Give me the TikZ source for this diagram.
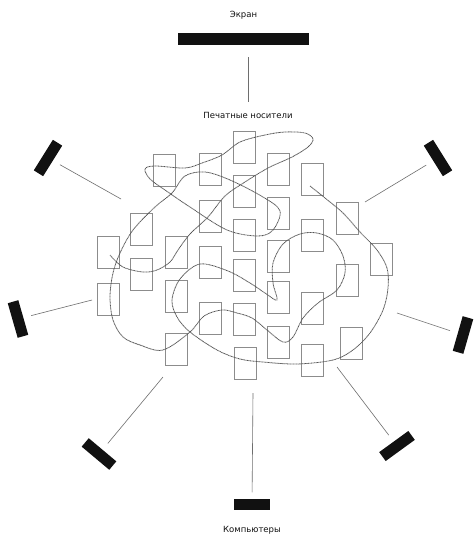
\documentclass[tikz,border=0pt]{standalone}
\usepackage{fontspec}
\setmainfont{DejaVu Sans}
\usetikzlibrary{positioning}
\definecolor{ink}{HTML}{111111}
\definecolor{sheetgr}{HTML}{8C8C8C}
\definecolor{tracegr}{HTML}{555555}
\definecolor{wiregr}{HTML}{6E6E6E}

\begin{document}
\begin{tikzpicture}[x=1pt,y=-1pt,
   screen/.style={fill=ink,minimum width=36pt,minimum height=11pt,inner sep=0pt},
   sheet/.style={draw=sheetgr,line width=0.8pt,minimum width=22pt,minimum height=32pt,inner sep=0pt},
   link/.style={draw=wiregr,line width=0.6pt},
   trace/.style={draw=tracegr,line width=0.8pt,dash pattern=on 1pt off 0.5pt},
   lbl/.style={font=\fontsize{8.5}{10}\selectfont,text=ink,inner sep=1pt}]
  \path[fill=white] (0,0) rectangle (475,535);
  \useasboundingbox (0,0) rectangle (475,535);

  % screens round the edge
  \node[screen,minimum width=131pt,minimum height=12pt] (scr-top) at (243.5,39) {};
  \node[screen,rotate=58] (scr-nw) at (48,158) {};
  \node[screen,rotate=106] (scr-w) at (18,319) {};
  \node[screen,rotate=-40] (scr-sw) at (99,454) {};
  \node[screen] (scr-s) at (252,504) {};
  \node[screen,rotate=36] (scr-se) at (397,446) {};
  \node[screen,rotate=74] (scr-e) at (463,335) {};
  \node[screen,rotate=-58] (scr-ne) at (438,158) {};

  \coordinate (top-in) at (248,102);
  \coordinate (nw-in) at (121,199);
  \coordinate (w-in) at (92,300);
  \coordinate (sw-in) at (163,377);
  \coordinate (s-in) at (253,393);
  \coordinate (se-in) at (337,367);
  \coordinate (e-in) at (397,313);
  \coordinate (ne-in) at (365,202);

  \node[lbl,above=12pt of scr-top] (l-top) {Экран};
  \node[lbl,below=9pt of top-in] (l-print) {Печатные носители};
  \node[lbl,below=15pt of scr-s] (l-comp) {Компьютеры};

  \draw[link,shorten <=12pt] (scr-top.south -| top-in) -- (top-in);
  \draw[link,shorten <=8pt] (scr-nw) -- (nw-in);
  \draw[link,shorten <=8pt] (scr-w) -- (w-in);
  \draw[link,shorten <=8pt] (scr-sw) -- (sw-in);
  \draw[link,shorten <=6pt] (scr-s) -- (s-in);
  \draw[link,shorten <=8pt] (scr-se) -- (se-in);
  \draw[link,shorten <=8pt] (scr-e) -- (e-in);
  \draw[link,shorten <=8pt] (scr-ne) -- (ne-in);

  % printed sheets
  \foreach \x/\y [count=\i] in {164/170,210/169,244.5/147.5,278/169,312/179,
      244.5/191,210/216,278/213,141.5/229.5,347/218,244.5/235,312/235,
      108.5/252.5,176.5/252.5,381.5/259,210/262.5,278/256.5,141.5/274,
      244.5/275.5,347/280,108.5/299,176.5/296,278/297.5,312/308,210/318,
      244.5/319,176.5/349.5,278/342,351.5/343,245/363,312/360}
    \node[sheet] (p\i) at (\x,\y) {};

  % reading path
  \draw[trace] plot[smooth,tension=0.55] coordinates {
    (310,186) (325,198) (343,213) (360,232) (377,250) (387,268) (388,288)
    (383,310) (370,333) (353,350) (333,360) (297,364) (263,362) (240,359)
    (217,350) (190,332) (177,317) (172,300) (180,279) (200,264) (228,271)
    (250,283) (265,293) (277,300) (273,283) (273,263) (283,244) (300,234)
    (317,233) (333,240) (343,256) (345,273) (337,290) (318,303) (303,318)
    (293,337) (283,342) (267,330) (252,318) (237,313) (222,310) (204,316)
    (190,332) (163,350) (140,345) (123,337) (113,320) (110,297) (113,273)
    (120,253) (133,230) (155,207) (172,193) (185,176) (205,172) (230,180)
    (263,197) (280,211) (273,230) (258,236) (227,230) (190,207) (165,190)
    (150,179) (145,169) (155,166) (185,168) (202,163) (222,155) (240,142)
    (265,135) (285,132) (305,133) (313,139) (308,147) (292,157) (268,168)
    (245,182) (225,196) (208,217) (190,234) (178,250) (170,262) (157,270)
    (143,272) (123,267) (110,255)};
\end{tikzpicture}
\end{document}
